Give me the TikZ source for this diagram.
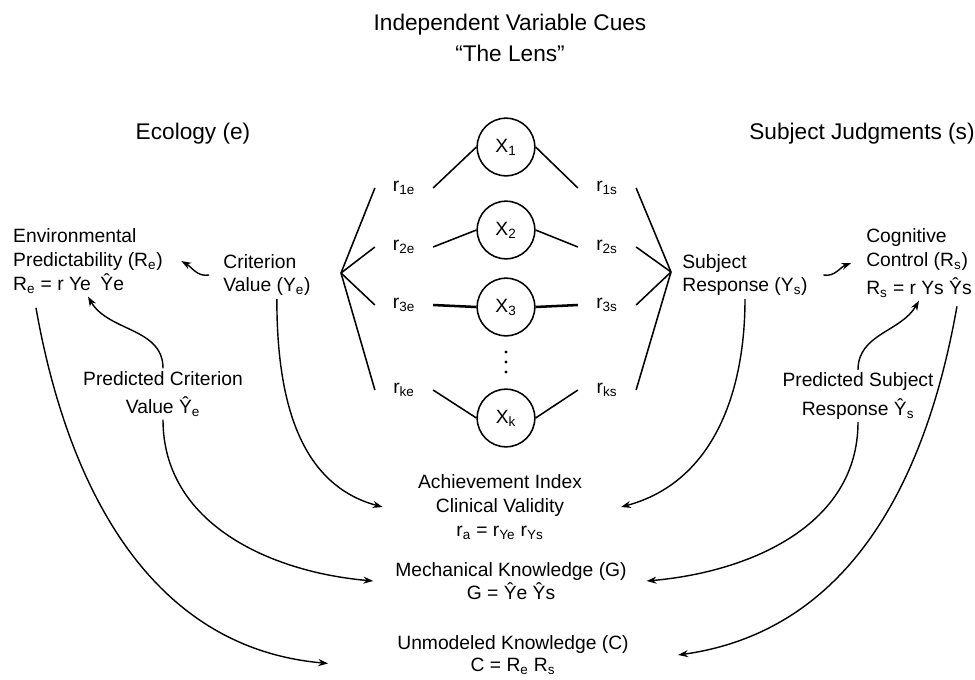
\documentclass[tikz,border=0pt]{standalone}
\usepackage{fontspec}
\setmainfont{Liberation Sans}
\usetikzlibrary{arrows.meta}

\begin{document}
\begin{tikzpicture}[x=0.025cm, y=0.025cm,
	txt/.style={inner sep=2pt, font=\fontsize{13.7}{17}\selectfont},
	head/.style={inner sep=2pt, font=\fontsize{16.1}{19}\selectfont},
	cue/.style={draw, circle, line width=1.1pt, minimum size=41pt, inner sep=0pt, font=\fontsize{13.7}{17}\selectfont},
	rlab/.style={inner sep=0pt, minimum width=41pt, font=\fontsize{13.7}{17}\selectfont},
	lens/.style={line width=1.1pt},
	link/.style={line width=1pt, -{Stealth[length=7pt, width=5pt]}}]
	\useasboundingbox (0,0) rectangle (975,-679);
	% headings
	\node[head] (cues) at (510,-25) {Independent Variable Cues};
	\node[head] (lensname) at (510,-53) {“The Lens”};
	\node[head] (eco) at (193,-134) {Ecology (e)};
	\node[head] (judg) at (862,-134) {Subject Judgments (s)};
	% the lens
	\coordinate (L) at (341,-273);
	\coordinate (R) at (671,-272);
	\node[cue] (x1) at (506,-147) {X\textsubscript{1}};
	\node[cue] (x2) at (506,-230) {X\textsubscript{2}};
	\node[cue] (x3) at (506,-307) {X\textsubscript{3}};
	\node[cue] (xk) at (506,-418) {X\textsubscript{k}};
	\fill (506,-352) circle (1.6);
	\fill (506,-362) circle (1.6);
	\fill (506,-372) circle (1.6);
	\node[rlab] (r1e) at (404,-188) {r\textsubscript{1e}};
	\node[rlab] (r2e) at (404,-247) {r\textsubscript{2e}};
	\node[rlab] (r3e) at (404,-305) {r\textsubscript{3e}};
	\node[rlab] (rke) at (404,-390) {r\textsubscript{ke}};
	\node[rlab] (r1s) at (607,-188) {r\textsubscript{1s}};
	\node[rlab] (r2s) at (607,-247) {r\textsubscript{2s}};
	\node[rlab] (r3s) at (607,-305) {r\textsubscript{3s}};
	\node[rlab] (rks) at (607,-390) {r\textsubscript{ks}};
	\draw[lens] (L) -- (r1e.west);
	\draw[lens] (L) -- (r2e.west);
	\draw[lens] (L) -- (r3e.west);
	\draw[lens] (L) -- (rke.west);
	\draw[lens] (r1e.east) -- (x1.west);
	\draw[lens] (r2e.east) -- (x2.west);
	\draw[lens, line width=1.8pt] (r3e.east) -- (x3.west);
	\draw[lens] (rke.east) -- (xk.west);
	\draw[lens] (x1.east) -- (r1s.west);
	\draw[lens] (x2.east) -- (r2s.west);
	\draw[lens, line width=1.8pt] (x3.east) -- (r3s.west);
	\draw[lens] (xk.east) -- (rks.west);
	\draw[lens] (r1s.east) -- (R);
	\draw[lens] (r2s.east) -- (R);
	\draw[lens] (r3s.east) -- (R);
	\draw[lens] (rks.east) -- (R);
	% ecology side
	\node[txt, align=left] (env) at (88,-261) {Environmental\\Predictability (R\textsubscript{e})\\R\textsubscript{e} = r Ye\enspace Ŷe};
	\node[txt, align=left] (crit) at (267,-275) {Criterion\\Value (Y\textsubscript{e})};
	\node[txt, align=center] (pc) at (163,-394) {Predicted Criterion\\[3pt]Value Ŷ\textsubscript{e}};
	% judgment side
	\node[txt, align=left] (subj) at (745,-275) {Subject\\Response (Y\textsubscript{s})};
	\node[txt, align=left] (cog) at (919,-263) {Cognitive\\Control (R\textsubscript{s})\\[3pt]R\textsubscript{s} = r Ys Ŷs};
	\node[txt, align=center] (ps) at (858,-396) {Predicted Subject\\[3pt]Response Ŷ\textsubscript{s}};
	% indices
	\node[txt, align=center] (ach) at (500,-507) {Achievement Index\\Clinical Validity\\r\textsubscript{a} = r\textsubscript{Ye}\ r\textsubscript{Ys}};
	\node[txt, align=center, font=\fontsize{13.7}{16}\selectfont] (mech) at (511,-581) {Mechanical Knowledge (G)\\G = Ŷe Ŷs};
	\node[txt, align=center, font=\fontsize{13.7}{16}\selectfont] (unmod) at (513,-655) {Unmodeled Knowledge (C)\\C = R\textsubscript{e} R\textsubscript{s}};
	% connectors
	\draw[link] ([xshift=-8pt]crit.west) to[out=190, in=-30] ([xshift=11pt]env.east);
	\draw[link] (pc.north) to[out=90, in=-60] (env.south);
	\draw[link] ([xshift=7pt]crit.south) to[out=-90, in=165] ([xshift=-23pt]ach.west);
	\draw[link] (pc.south) to[out=-90, in=175] ([xshift=-13.5pt]mech.west);
	\draw[link] ([xshift=-37pt, yshift=-8pt]env.south) to[out=-80, in=175] ([xshift=-47pt, yshift=-6pt]unmod.west);
	\draw[link] ([xshift=9pt]subj.east) to[out=-10, in=200] ([xshift=-8.5pt]cog.west);
	\draw[link] (ps.north) to[out=90, in=-120] (cog.south);
	\draw[link] (subj.south) to[out=-90, in=15] ([xshift=25.6pt]ach.east);
	\draw[link] (ps.south) to[out=-90, in=5] ([xshift=12pt]mech.east);
	\draw[link] ([xshift=27pt, yshift=-4pt]cog.south) to[out=-100, in=8] ([xshift=33pt]unmod.east);
\end{tikzpicture}
\end{document}
